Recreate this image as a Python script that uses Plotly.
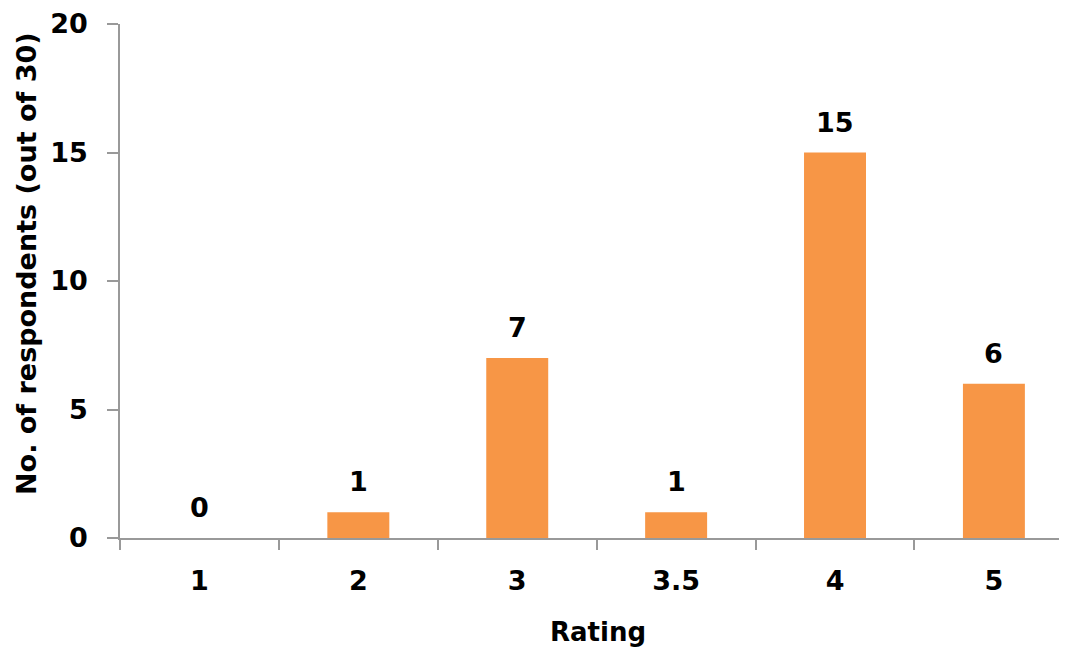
import plotly.graph_objects as go

categories = ["1", "2", "3", "3.5", "4", "5"]
values = [0, 1, 7, 1, 15, 6]
y_ticks = [0, 5, 10, 15, 20]

FONT = "DejaVu Sans"
TICK_SIZE = 27
TITLE_SIZE = 26

fig = go.Figure(go.Bar(
    x=categories, y=values,
    marker=dict(color="#F79646", line=dict(width=0)),
    width=0.39,
    cliponaxis=False,
))

# data labels (category axis: annotation x given as category index)
for i, v in enumerate(values):
    fig.add_annotation(
        x=i, y=v, text=str(v), showarrow=False,
        yanchor="bottom", yshift=13,
        font=dict(family=FONT, size=TICK_SIZE, color="black", weight="bold"),
    )

# plot area in screen px: left 120, top 24, bottom 538 (page has 8px body margin)
W, H = 1059, 640
L, T = 112, 16
plot_h = 514
B = H - T - plot_h
plot_w = W - L

fig.add_annotation(
    xref="paper", yref="paper",
    x=(26 - 120) / plot_w, y=(538 - 264) / plot_h,
    text="No. of respondents (out of 30)", textangle=-90, showarrow=False,
    xanchor="center", yanchor="middle",
    font=dict(family=FONT, size=27, color="black", weight="bold"),
)
fig.add_annotation(
    xref="paper", yref="paper",
    x=(598 - 120) / plot_w, y=(538 - 632) / plot_h,
    text="Rating", showarrow=False,
    xanchor="center", yanchor="middle",
    font=dict(family=FONT, size=TITLE_SIZE, color="black", weight="bold"),
)

fig.update_layout(
    width=W, height=H,
    margin=dict(l=L, r=0, t=T, b=B),
    plot_bgcolor="white", paper_bgcolor="white",
    showlegend=False,
    font=dict(family=FONT, color="black"),
    xaxis=dict(
        type="category",
        range=[-0.5, 5.46],
        tickson="boundaries",
        ticks="outside", ticklen=10, tickwidth=1.5, tickcolor="#999999",
        showline=True, linecolor="#999999", linewidth=1.5,
        showgrid=False,
        tickfont=dict(family=FONT, size=TICK_SIZE, color="black", weight="bold"),
        ticklabelstandoff=18,
    ),
    yaxis=dict(
        range=[0, 20],
        tickvals=y_ticks,
        ticks="outside", ticklen=11, tickwidth=1.5, tickcolor="#999999",
        showline=True, linecolor="#999999", linewidth=1.5,
        showgrid=False, zeroline=False,
        tickfont=dict(family=FONT, size=TICK_SIZE, color="black", weight="bold"),
        ticklabelstandoff=14,
    ),
)

fig.write_html("out.html")
